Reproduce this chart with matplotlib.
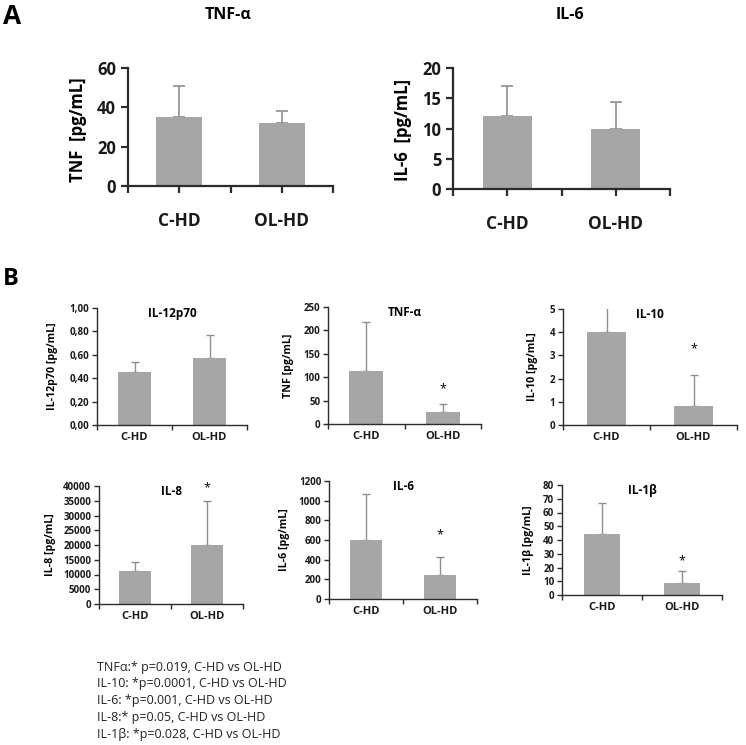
import matplotlib
matplotlib.use("Agg")
import matplotlib.pyplot as plt
from matplotlib.ticker import FuncFormatter
import numpy as np

# ---------------- data ----------------
groups = ["C-HD", "OL-HD"]

# Panel A
a_tnf_mean = [35, 32]
a_tnf_err = [16, 6]
a_il6_mean = [12.1, 10.0]
a_il6_err = [5.0, 4.3]

# Panel B
b_il12_mean = [0.45, 0.57]
b_il12_err = [0.09, 0.20]
b_tnf_mean = [113, 25]
b_tnf_err = [105, 18]
b_il10_mean = [4.03, 0.81]
b_il10_err = [1.4, 1.34]
b_il8_mean = [11300, 20000]
b_il8_err = [2800, 15000]
b_il6_mean = [603, 241]
b_il6_err = [465, 186]
b_il1b_mean = [44.2, 8.5]
b_il1b_err = [22.5, 9.1]

pvalue_lines = [
    "TNFα:* p=0.019, C-HD vs OL-HD",
    "IL-10: *p=0.0001, C-HD vs OL-HD",
    "IL-6: *p=0.001, C-HD vs OL-HD",
    "IL-8:* p=0.05, C-HD vs OL-HD",
    "IL-1β: *p=0.028, C-HD vs OL-HD",
]

# ---------------- style ----------------
W, H = 746, 745
plt.rcParams['font.family'] = ['Open Sans', 'DejaVu Sans']
BAR = '#a6a6a6'
ERR = '#8f8f8f'
SPINE = '#2b2b2b'

fig = plt.figure(figsize=(W / 100, H / 100), dpi=100)


def ax_px(x0, y0, x1, y1):
    return fig.add_axes([x0 / W, 1 - y1 / H, (x1 - x0) / W, (y1 - y0) / H])


def style_axes(ax, lw, ticklen, ticks_centers):
    for s in ['top', 'right']:
        ax.spines[s].set_visible(False)
    for s in ['left', 'bottom']:
        ax.spines[s].set_color(SPINE)
        ax.spines[s].set_linewidth(lw)
    ax.set_xlim(-0.5, 1.5)
    if ticks_centers:
        ax.set_xticks([-0.5, 0, 0.5, 1, 1.5])
        ax.set_xticklabels(["", groups[0], "", groups[1], ""])
    else:
        ax.set_xticks([-0.5, 0.5, 1.5])
        ax.set_xticks([0, 1], minor=True)
        ax.set_xticklabels(["", "", ""])
        ax.set_xticklabels(groups, minor=True)
        ax.tick_params(axis='x', which='minor', length=0)
    ax.tick_params(axis='both', which='major', direction='out', length=ticklen,
                   width=lw, color=SPINE)
    for lab in ax.get_xticklabels(which='both') + ax.get_yticklabels():
        lab.set_fontweight('bold')
        lab.set_color('#1a1a1a')


def draw_bars(ax, mean, err, width, capsize, elw):
    x = np.arange(len(groups))
    ax.bar(x, mean, width=width, color=BAR, zorder=2)
    ax.errorbar(x, mean, yerr=[np.zeros(len(mean)), err], fmt='none',
                ecolor=ERR, elinewidth=elw, capsize=capsize, capthick=elw, zorder=1)


# ---------------- Panel A ----------------
fig.text(3 / W, 1 - 16 / H, "A", fontsize=19, fontweight='bold', va='center', ha='left')

axA1 = ax_px(128, 68, 333, 186)
draw_bars(axA1, a_tnf_mean, a_tnf_err, 0.45, 4, 1.2)
axA1.set_ylim(0, 60)
axA1.set_yticks([0, 20, 40, 60])
style_axes(axA1, 1.6, 5, True)
axA1.tick_params(axis='y', labelsize=12)
axA1.tick_params(axis='x', labelsize=12.5, pad=14)
fig.text(228 / W, 1 - 15 / H, "TNF-α", fontsize=11.5, fontweight='bold', ha='center', va='center')
fig.text(78 / W, 1 - 130 / H, "TNF  [pg/mL]", fontsize=12, fontweight='bold',
         rotation=90, ha='center', va='center')

axA2 = ax_px(453, 68, 670, 189)
draw_bars(axA2, a_il6_mean, a_il6_err, 0.45, 4, 1.2)
axA2.set_ylim(0, 20)
axA2.set_yticks([0, 5, 10, 15, 20])
style_axes(axA2, 1.6, 5, True)
axA2.tick_params(axis='y', labelsize=12)
axA2.tick_params(axis='x', labelsize=12.5, pad=14)
fig.text(570 / W, 1 - 15 / H, "IL-6", fontsize=11.5, fontweight='bold', ha='center', va='center')
fig.text(403 / W, 1 - 130 / H, "IL-6  [pg/mL]", fontsize=12, fontweight='bold',
         rotation=90, ha='center', va='center')

# ---------------- Panel B ----------------
fig.text(3 / W, 1 - 279 / H, "B", fontsize=17, fontweight='bold', va='center', ha='left')

panels = [
    # (rect px, mean, err, ylim, yticks, title, ylabel, ylabel_x, star, star_off, fmt)
    ((97, 308, 247, 425), b_il12_mean, b_il12_err, (0, 1.0), np.arange(0, 1.01, 0.2),
     "IL-12p70", "IL-12p70 [pg/mL]", 52, False, 0, 'comma'),
    ((328, 307, 481, 424), b_tnf_mean, b_tnf_err, (0, 250), np.arange(0, 251, 50),
     "TNF-α", "TNF [pg/mL]", 289, True, 9, None),
    ((563, 309, 737, 425), b_il10_mean, b_il10_err, (0, 5), np.arange(0, 6, 1),
     "IL-10", "IL-10 [pg/mL]", 533, True, 17, None),
    ((99, 486, 243, 604), b_il8_mean, b_il8_err, (0, 40000), np.arange(0, 40001, 5000),
     "IL-8", "IL-8 [pg/mL]", 50, True, 7, None),
    ((329, 481, 477, 599), b_il6_mean, b_il6_err, (0, 1200), np.arange(0, 1201, 200),
     "IL-6", "IL-6 [pg/mL]", 284, True, 14, None),
    ((562, 485, 722, 595), b_il1b_mean, b_il1b_err, (0, 80), np.arange(0, 81, 10),
     "IL-1β", "IL-1β [pg/mL]", 529, True, 5, None),
]

for rect, mean, err, ylim, yticks, title, ylabel, ylx, star, soff, fmt in panels:
    ax = ax_px(*rect)
    draw_bars(ax, mean, err, 0.44, 3, 1.0)
    ax.set_ylim(*ylim)
    ax.set_yticks(yticks)
    if fmt == 'comma':
        ax.yaxis.set_major_formatter(FuncFormatter(lambda v, p: f"{v:.2f}".replace('.', ',')))
    style_axes(ax, 1.0, 3.5, False)
    ax.tick_params(axis='y', labelsize=7, pad=2)
    ax.tick_params(axis='x', which='both', labelsize=8, pad=5)
    x0, y0, x1, y1 = rect
    ax.text(0.5, 1 - 6 / (y1 - y0), title, transform=ax.transAxes, ha='center', va='center',
            fontsize=8.5, fontweight='bold')
    fig.text(ylx / W, 1 - ((y0 + y1) / 2) / H, ylabel, rotation=90, ha='center', va='center',
             fontsize=7.7, fontweight='bold')
    if star:
        ax.annotate("*", xy=(1, mean[1] + err[1]), xytext=(0, soff + 2), textcoords='offset points',
                    ha='center', va='center', fontsize=9, annotation_clip=False)

# ---------------- p-value text ----------------
for i, line in enumerate(pvalue_lines):
    fig.text(97 / W, 1 - (667 + i * 16.8) / H, line, fontsize=9, ha='left', va='center',
             color='#222222')

fig.savefig("out.png", dpi=100)
